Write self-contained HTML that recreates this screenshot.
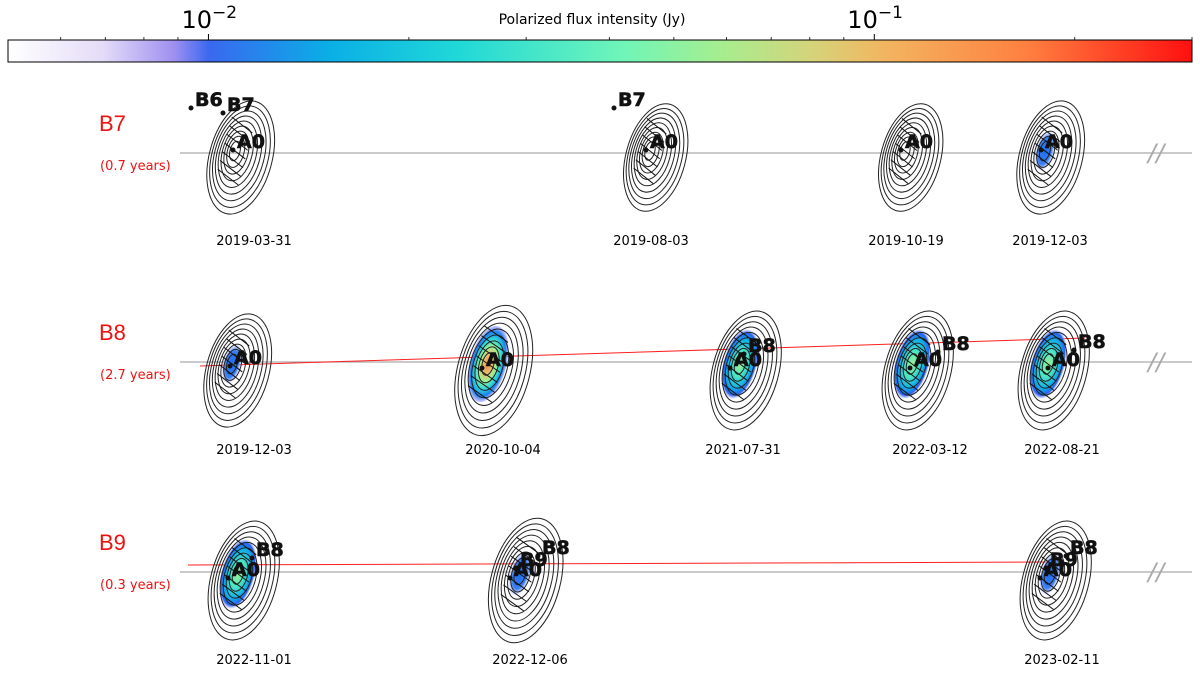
<!DOCTYPE html>
<html><head><meta charset="utf-8">
<style>
html,body{margin:0;padding:0;background:#fff;}
svg{display:block;font-family:"DejaVu Sans","Liberation Sans",sans-serif;}
</style></head>
<body>
<svg id="chart" width="1200" height="676" viewBox="0 0 1200 676" xmlns="http://www.w3.org/2000/svg">
<defs>
<linearGradient id="cmap" x1="0" x2="1" y1="0" y2="0">
<stop offset="0" stop-color="#ffffff"/>
<stop offset="0.08" stop-color="#e4dcf8"/>
<stop offset="0.14" stop-color="#9f90f0"/>
<stop offset="0.17" stop-color="#3a68f0"/>
<stop offset="0.27" stop-color="#0aaee6"/>
<stop offset="0.38" stop-color="#20d8d8"/>
<stop offset="0.52" stop-color="#70f5b8"/>
<stop offset="0.60" stop-color="#a5ee90"/>
<stop offset="0.68" stop-color="#d6d37a"/>
<stop offset="0.74" stop-color="#f2b560"/>
<stop offset="0.86" stop-color="#ff8040"/>
<stop offset="1" stop-color="#ff1010"/>
</linearGradient>
<radialGradient id="g1"><stop offset="0" stop-color="#1e6cf0"/><stop offset="0.7" stop-color="#3a80f5"/><stop offset="1" stop-color="#c8c8ff" stop-opacity="0.3"/></radialGradient>
<radialGradient id="g2"><stop offset="0" stop-color="#a0f090"/><stop offset="0.35" stop-color="#50e8c0"/><stop offset="0.7" stop-color="#10b0e8"/><stop offset="0.9" stop-color="#2a60f0"/><stop offset="1" stop-color="#c8c8ff" stop-opacity="0.3"/></radialGradient>
<radialGradient id="g3"><stop offset="0" stop-color="#f08040"/><stop offset="0.25" stop-color="#e8c070"/><stop offset="0.45" stop-color="#a0f090"/><stop offset="0.65" stop-color="#30d8d8"/><stop offset="0.85" stop-color="#1a80f0"/><stop offset="1" stop-color="#8080ff" stop-opacity="0.4"/></radialGradient>
</defs>
<g id="cbar"></g>
<g id="rows"></g>
<g id="panels"></g>
</svg>
<script>
// colorbar data
const cbarMin = 0.005, cbarMax = 0.3;
const cbarMajorTicks = [0.01, 0.1];
const cbarMajorLabels = ["10","10"];
const cbarMinorTicks = [0.006,0.007,0.008,0.009,0.02,0.03,0.04,0.05,0.06,0.07,0.08,0.09,0.2,0.3];
// rows
const rowNames = ["B7","B8","B9"];
const rowYears = ["(0.7 years)","(2.7 years)","(0.3 years)"];
// panels: [row, centerX, date, size, angle, fillLevel]
const panelRow = [0,0,0,0,1,1,1,1,1,2,2,2];
const panelX = [235,650,905,1045,232,488,740,912,1048,238,520,1050];
const panelDate = ["2019-03-31","2019-08-03","2019-10-19","2019-12-03","2019-12-03","2020-10-04","2021-07-31","2022-03-12","2022-08-21","2022-11-01","2022-12-06","2023-02-11"];
const panelSize = [1.0,0.95,0.95,1.0,1.0,1.15,1.05,1.05,1.05,1.05,1.1,1.05];
const panelFill = [0,0,0,1,1,3,2,2,2,2,1,1];

const svg = document.getElementById('chart');
const NS = 'http://www.w3.org/2000/svg';
function mk(tag, attrs, parent){const e=document.createElementNS(NS,tag);for(const k in attrs)e.setAttribute(k,attrs[k]);(parent||svg).appendChild(e);return e;}
const cbX0=8, cbX1=1192, cbY=40, cbH=22;
function cx(v){return cbX0+(Math.log10(v)-Math.log10(cbarMin))/(Math.log10(cbarMax)-Math.log10(cbarMin))*(cbX1-cbX0);}
const cb = document.getElementById('cbar');
const bar = mk('rect',{x:cbX0,y:cbY,width:cbX1-cbX0,height:cbH,fill:'url(#cmap)',stroke:'#000','stroke-width':1},cb);


cbarMinorTicks.forEach(v=>{const t=mk('line',{x1:cx(v),x2:cx(v),y1:cbY,y2:cbY-3,stroke:'#000','stroke-width':0.8},cb);

});
cbarMajorTicks.forEach((v,i)=>{mk('line',{x1:cx(v),x2:cx(v),y1:cbY,y2:cbY-6,stroke:'#000','stroke-width':1},cb);
const t=mk('text',{x:cx(v)-27,y:28,'font-size':24,fill:'#000'},cb);t.textContent=cbarMajorLabels[i];


const s=mk('tspan',{dy:-10,'font-size':17},t);s.textContent=i==0?'\u22122':'\u22121';});
const ct=mk('text',{x:592,y:24,'font-size':14,'text-anchor':'middle',fill:'#000'},cb);ct.textContent='Polarized flux intensity (Jy)';



const rowY=[153,362,572];
const rows=document.getElementById('rows');
rowNames.forEach((n,i)=>{
 const l=mk('line',{x1:180,x2:1192,y1:rowY[i],y2:rowY[i],stroke:'#aaa','stroke-width':1.2},rows);
 
 
 const t=mk('text',{x:99,y:rowY[i]-22,'font-size':22,fill:'#ee1111','font-family':'Liberation Sans, sans-serif'},rows);t.textContent=n;
 
 
 const y=mk('text',{x:100,y:rowY[i]+17,'font-size':13,fill:'#ee1111'},rows);y.textContent=rowYears[i];
 
 
 const s=mk('text',{x:1148,y:rowY[i]+8,'font-size':24,fill:'#aaa','font-style':'italic'},rows);s.textContent='//';
 
 
});
// red trajectory lines
const rl1=mk('line',{x1:200,y1:366,x2:1085,y2:338,stroke:'#ff2020','stroke-width':1},rows);


const rl2=mk('line',{x1:188,y1:565,x2:1060,y2:562,stroke:'#ff2020','stroke-width':1},rows);



const pg=document.getElementById('panels');
const labelsFor=[[["B6",-40,-45],["B7",-8,-40],["A0",2,-3]],[["B7",-32,-45],["A0",0,-3]],[["A0",0,-3]],[["A0",0,-3]],
[["A0",2,0]],[["A0",-2,2]],[["A0",-6,2],["B8",8,-12]],[["A0",2,2],["B8",30,-14]],[["A0",4,2],["B8",30,-16]],
[["A0",-6,2],["B8",18,-18]],[["A0",-6,2],["B9",0,-8],["B8",22,-20]],[["A0",-6,2],["B9",0,-8],["B8",20,-20]]];
panelX.forEach((x,i)=>{
 const y=rowY[panelRow[i]]+(panelRow[i]==0?-2:2);
 const g=mk('g',{transform:`translate(${x},${y}) rotate(15)`},pg);
 
 
 const s=panelSize[i];
 const f=panelFill[i];
 if(f>0){const e=mk('ellipse',{cx:0,cy:0,rx:(f==1?9:16)*s,ry:(f==1?20:34)*s,fill:'url(#g'+f+')'},g);
  
  }
 for(let k=0;k<9;k++){
  const rx=(5+k*3.3)*s, ry=(10+k*6)*s;
  const e=mk('ellipse',{cx:k*0.9,cy:k*0.6,rx:rx,ry:ry,fill:'none',stroke:'#222','stroke-width':1},g);
  
  
 }
 for(let k=-3;k<=3;k++){mk('line',{x1:-12*s,x2:12*s,y1:k*9*s-5,y2:k*9*s+5,stroke:'#111','stroke-width':1},g);}
 labelsFor[i].forEach(L=>{
  mk('circle',{cx:x+L[1]-4,cy:y+L[2]+2,r:2.5,fill:'#111'},pg);
  const t=mk('text',{x:x+L[1],y:y+L[2],'font-size':19,'font-weight':'bold',fill:'#111',stroke:'#111','stroke-width':0.6},pg);t.textContent=L[0];
  
  
 });
 const dt=mk('text',{x:[254,651,906,1050,254,503,743,930,1062,254,530,1062][i],y:rowY[panelRow[i]]+92,'font-size':13,'text-anchor':'middle',fill:'#000'},pg);
 dt.textContent=panelDate[i];
 
 
});
</script>
</body></html>
